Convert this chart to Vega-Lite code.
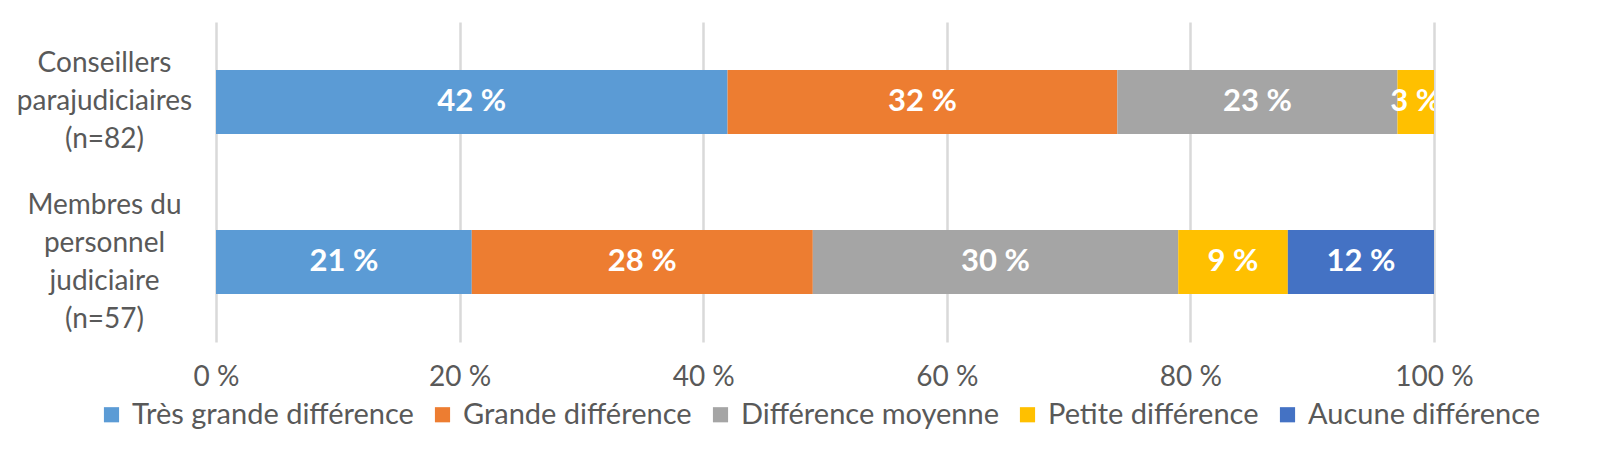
{
  "$schema": "https://vega.github.io/schema/vega-lite/v6.json",
  "width": 1218,
  "height": 320,
  "autosize": {"type": "none"},
  "padding": {"left": 216, "top": 22, "right": 168, "bottom": 112},
  "background": "white",
  "config": {
    "font": "Lato",
    "view": {"stroke": null}
  },
  "data": {
    "values": [
      {"groupe": "Conseillers|parajudiciaires|(n=82)", "reponse": "Très grande différence", "ordre": 1, "pct": 42},
      {"groupe": "Conseillers|parajudiciaires|(n=82)", "reponse": "Grande différence", "ordre": 2, "pct": 32},
      {"groupe": "Conseillers|parajudiciaires|(n=82)", "reponse": "Différence moyenne", "ordre": 3, "pct": 23},
      {"groupe": "Conseillers|parajudiciaires|(n=82)", "reponse": "Petite différence", "ordre": 4, "pct": 3},
      {"groupe": "Membres du|personnel|judiciaire|(n=57)", "reponse": "Très grande différence", "ordre": 1, "pct": 21},
      {"groupe": "Membres du|personnel|judiciaire|(n=57)", "reponse": "Grande différence", "ordre": 2, "pct": 28},
      {"groupe": "Membres du|personnel|judiciaire|(n=57)", "reponse": "Différence moyenne", "ordre": 3, "pct": 30},
      {"groupe": "Membres du|personnel|judiciaire|(n=57)", "reponse": "Petite différence", "ordre": 4, "pct": 9},
      {"groupe": "Membres du|personnel|judiciaire|(n=57)", "reponse": "Aucune différence", "ordre": 5, "pct": 12}
    ]
  },
  "transform": [
    {"calculate": "datum.pct + ' %'", "as": "etiquette"}
  ],
  "encoding": {
    "y": {
      "field": "groupe",
      "type": "nominal",
      "sort": null,
      "scale": {"paddingInner": 0.6, "paddingOuter": 0.3},
      "axis": {
        "title": null,
        "domain": false,
        "ticks": false,
        "labelExpr": "split(datum.label, '|')",
        "labelAlign": "center",
        "labelBaseline": "middle",
        "labelOffset": {
          "condition": {"test": "indexof(datum.value, 'Membres') >= 0", "value": -56},
          "value": -38
        },
        "labelPadding": 112,
        "labelFontSize": 28,
        "labelLineHeight": 38,
        "labelColor": "#595959",
        "labelLimit": 300
      }
    },
    "x": {
      "field": "pct",
      "type": "quantitative",
      "stack": "zero",
      "scale": {"domain": [0, 100], "nice": false},
      "axis": {
        "title": null,
        "values": [0, 20, 40, 60, 80, 100],
        "labelExpr": "datum.value + ' %'",
        "domain": false,
        "ticks": false,
        "grid": true,
        "gridColor": "#D9D9D9",
        "gridWidth": 2.5,
        "labelFontSize": 28,
        "labelColor": "#595959",
        "labelPadding": 21,
        "labelFlush": false
      }
    },
    "order": {"field": "ordre", "type": "quantitative"}
  },
  "layer": [
    {
      "mark": {"type": "bar"},
      "encoding": {
        "color": {
          "field": "reponse",
          "type": "nominal",
          "scale": {
            "domain": ["Très grande différence", "Grande différence", "Différence moyenne", "Petite différence", "Aucune différence"],
            "range": ["#5B9BD5", "#ED7D31", "#A5A5A5", "#FFC000", "#4472C4"]
          },
          "legend": {
            "title": null,
            "orient": "none",
            "direction": "horizontal",
            "legendX": -119,
            "legendY": 378,
            "symbolType": "square",
            "symbolSize": 230,
            "symbolStrokeWidth": 0,
            "labelFontSize": 29,
            "labelColor": "#595959",
            "labelOffset": 6,
            "columnPadding": 14,
            "labelLimit": 400
          }
        }
      }
    },
    {
      "mark": {"type": "text", "color": "white", "fontWeight": "bold", "fontSize": 31, "clip": true},
      "encoding": {
        "x": {"field": "pct", "type": "quantitative", "stack": "zero", "bandPosition": 0.5},
        "text": {"field": "etiquette", "type": "nominal"},
        "detail": {"field": "reponse"}
      }
    }
  ]
}
